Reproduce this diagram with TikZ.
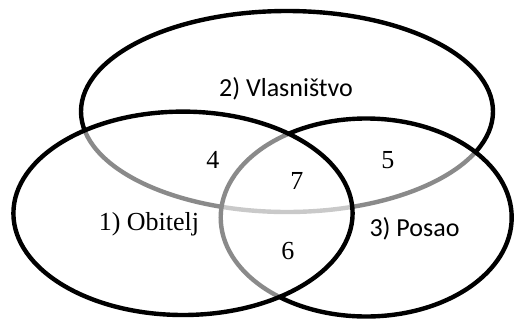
\documentclass[tikz,border=0pt]{standalone}
\usepackage{fontspec}
\setmainfont{Liberation Serif}
\newfontfamily\calibri{Carlito}
\usepackage{tikz}

\begin{document}
\begin{tikzpicture}[x=0.02cm, y=-0.02cm,
		skup/.style={line width=0.088cm},
		prozirno/.style={fill=white, fill opacity=0.54},
		broj/.style={anchor=base, inner sep=0pt, font=\fontsize{14.8}{17}\selectfont},
		naziv/.style={anchor=base, inner sep=0pt, font=\calibri\fontsize{14.8}{17}\selectfont}]
			%%%%% START %%%%%
			
			\useasboundingbox (0, 0) rectangle (515, 322);
			
			\draw[skup, fill=white] (287, 111.5) ellipse (206 and 100.5);
			\draw[skup, prozirno] (366.2, 217.5) ellipse (145.5 and 99);
			\draw[skup, prozirno] (183, 213.3) ellipse (169.6 and 101.7);
			
			\node[naziv] (vlasnistvo) at (286, 96.7) {2) Vlasništvo};
			\node[broj] (obitelj) at (149, 230.7) {1) Obitelj};
			\node[naziv] (posao) at (414.5, 236) {3) Posao};
			
			\node[broj] (r4) at (213, 168.3) {4};
			\node[broj] (r5) at (388, 168) {5};
			\node[broj] (r6) at (288, 259.3) {6};
			\node[broj] (r7) at (297, 189.3) {7};
			
			%%%%% END %%%%%
\end{tikzpicture}
\end{document}
